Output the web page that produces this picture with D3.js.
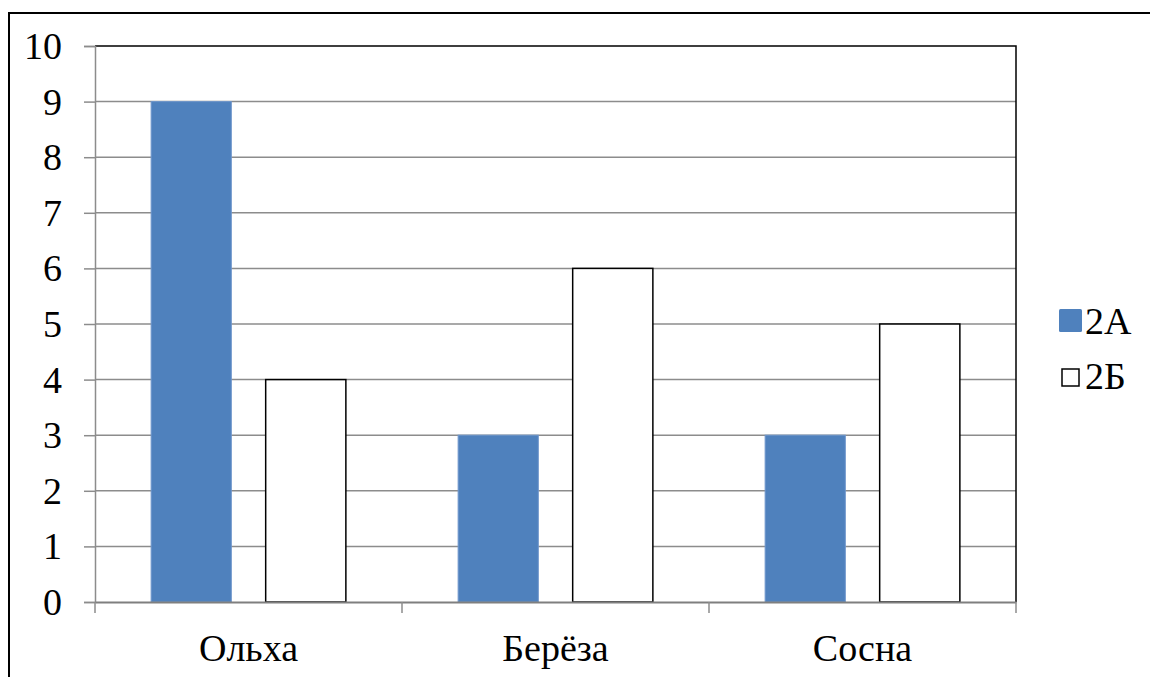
<!DOCTYPE html>
<html>
<head>
<meta charset="utf-8">
<script src="https://cdn.jsdelivr.net/npm/d3@7"></script>
<style>
  html, body { margin: 0; padding: 0; background: #fff; }
  svg { display: block; }
  text { font-family: "Liberation Serif", "Times New Roman", serif; fill: #000; }
</style>
</head>
<body>
<svg id="chart" width="1150" height="677"></svg>
<script>
// Trees counted by two classes
const categories = ["Ольха", "Берёза", "Сосна"];
const series = ["2А", "2Б"];
const values2A = [9, 3, 3];
const values2B = [4, 6, 5];
const yTicks = [0, 1, 2, 3, 4, 5, 6, 7, 8, 9, 10];

const svg = d3.select("#chart");
const W = 1150, H = 677;
const FONT = 38;

// outer frame (runs off the right and bottom edges)
svg.append("rect")
  .attr("x", 9).attr("y", 13)
  .attr("width", W + 20).attr("height", H + 20)
  .attr("fill", "none").attr("stroke", "#000").attr("stroke-width", 2);

const plot = { left: 95, right: 1016, top: 46, bottom: 602 };

const x = d3.scaleBand().domain(categories).range([plot.left, plot.right]);
const xs = d3.scaleBand().domain(series).range([0, x.bandwidth()])
  .paddingInner(0.3).paddingOuter(0.49);
const y = d3.scaleLinear().domain([0, 10]).range([plot.bottom, plot.top]);

// horizontal gridlines
svg.append("g").selectAll("line").data(yTicks.filter(d => d > 0 && d < 10)).join("line")
  .attr("x1", plot.left).attr("x2", plot.right)
  .attr("y1", d => y(d)).attr("y2", d => y(d))
  .attr("stroke", "#8c8c8c").attr("stroke-width", 1.5);

// plot area border top/right
svg.append("path")
  .attr("d", `M${plot.left},${y(10)}H${plot.right}V${plot.bottom}`)
  .attr("fill", "none").attr("stroke", "#000").attr("stroke-width", 1.5);

// bars
const groups = svg.append("g").selectAll("g").data(categories).join("g")
  .attr("transform", d => `translate(${x(d)},0)`);

groups.append("rect")
  .attr("x", xs("2А")).attr("width", xs.bandwidth())
  .attr("y", (d, i) => y(values2A[i]))
  .attr("height", (d, i) => y(0) - y(values2A[i]))
  .attr("fill", "#4f81bd").attr("stroke", "#6f97cc").attr("stroke-width", 1);

groups.append("rect")
  .attr("x", xs("2Б")).attr("width", xs.bandwidth())
  .attr("y", (d, i) => y(values2B[i]))
  .attr("height", (d, i) => y(0) - y(values2B[i]))
  .attr("fill", "#fff").attr("stroke", "#000").attr("stroke-width", 1.5);

// y axis
const yAxis = d3.axisLeft(y).tickValues(yTicks).tickSize(11).tickPadding(22)
  .tickFormat(d3.format("d"));
const gy = svg.append("g").attr("transform", `translate(${plot.left},0)`).call(yAxis);
gy.attr("font-family", "Liberation Serif");
gy.select(".domain").attr("stroke", "#8c8c8c").attr("stroke-width", 1.5);
gy.selectAll(".tick line").attr("stroke", "#8c8c8c").attr("stroke-width", 1.5);
gy.selectAll(".tick text").attr("font-size", FONT)
  .attr("font-family", "Liberation Serif").attr("fill", "#000").attr("dy", "0.33em");

// x axis
const gx = svg.append("g").attr("transform", `translate(0,${plot.bottom})`)
  .call(d3.axisBottom(x).tickSize(0).tickPadding(32));
gx.attr("font-family", "Liberation Serif");
gx.select(".domain").attr("stroke", "#7f7f7f").attr("stroke-width", 2);
gx.selectAll(".tick text").attr("font-size", FONT)
  .attr("font-family", "Liberation Serif").attr("fill", "#000");

// category separators below the axis
const seps = [plot.left].concat(categories.map(c => x(c) + x.bandwidth()));
svg.append("g").selectAll("line").data(seps).join("line")
  .attr("x1", d => d).attr("x2", d => d)
  .attr("y1", plot.bottom).attr("y2", plot.bottom + 11)
  .attr("stroke", "#8c8c8c").attr("stroke-width", 1.5);

// legend
const legend = svg.append("g").attr("font-family", "Liberation Serif");
legend.append("rect").attr("x", 1059).attr("y", 309).attr("width", 23).attr("height", 23)
  .attr("rx", 1.5).attr("fill", "#4f81bd");
legend.append("text").attr("x", 1085).attr("y", 334).attr("font-size", FONT).text(series[0]);
legend.append("rect").attr("x", 1062).attr("y", 369).attr("width", 17).attr("height", 17)
  .attr("fill", "#fff").attr("stroke", "#000").attr("stroke-width", 1.5);
legend.append("text").attr("x", 1085).attr("y", 389).attr("font-size", FONT).text(series[1]);
</script>
</body>
</html>
